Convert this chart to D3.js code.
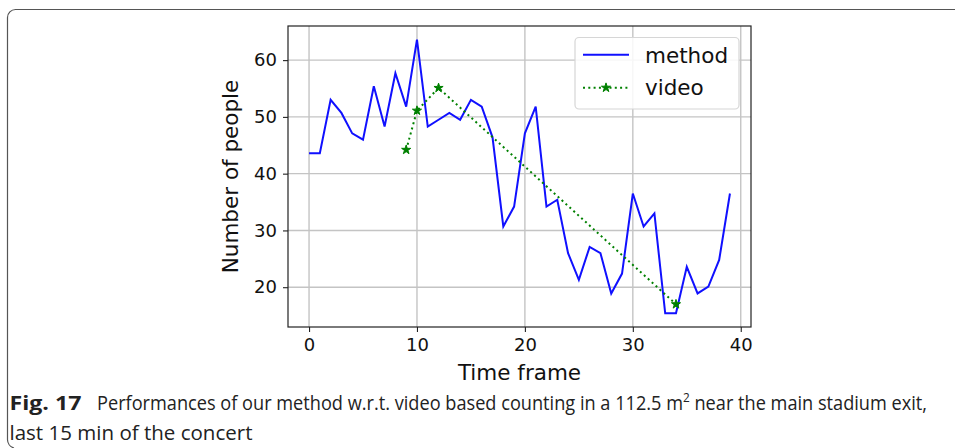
<!DOCTYPE html>
<html>
<head>
<meta charset="utf-8">
<script src="https://cdn.jsdelivr.net/npm/d3@7"></script>
<style>
  body { margin: 0; background: #fff; }
  svg { display: block; }
</style>
</head>
<body>
<svg id="canvas"></svg>
<script>
// Chart data
var methodCounts = [43.6, 43.6, 53.0, 50.7, 47.1, 46.0, 55.4, 48.3, 57.7, 51.8,
  63.6, 48.3, 49.5, 50.7, 49.5, 53.0, 51.8, 46.4, 30.7, 34.2,
  47.1, 51.8, 34.2, 35.4, 26.0, 21.3, 27.1, 26.0, 18.9, 22.4,
  36.5, 30.7, 33.0, 15.4, 15.4, 23.6, 18.9, 20.1, 24.8, 36.5];
var videoFrames = [9, 10, 12, 34];
var videoCounts = [44.2, 51.1, 55.1, 17.0];
var xTicks = [0, 10, 20, 30, 40];
var yTicks = [20, 30, 40, 50, 60];
var seriesNames = ['method', 'video'];

var canvasWidth = 955;
var canvasHeight = 448;

// Axes box
var plot = {
  left: 288,
  right: 751,
  top: 26,
  bottom: 327
};

var svg = d3.select('#canvas')
  .attr('width', canvasWidth)
  .attr('height', canvasHeight);

var mono = 'DejaVu Sans, sans-serif';

// Figure frame (open on the right)
svg.append('path')
  .attr('d', 'M955,9.5 H15.5 A8,8 0 0 0 7.5,17.5 V439 A9,9 0 0 0 14,448')
  .attr('fill', 'none')
  .attr('stroke', '#555')
  .attr('stroke-width', 1.2);

// Scales, with matplotlib style 5% margins
var xMargin = (methodCounts.length - 1) * 0.05;
var x = d3.scaleLinear()
  .domain([0 - xMargin, methodCounts.length - 1 + xMargin])
  .range([plot.left, plot.right]);

var allCounts = methodCounts.concat(videoCounts);
var yMin = d3.min(allCounts);
var yMax = d3.max(allCounts);
var yMargin = (yMax - yMin) * 0.05;
var y = d3.scaleLinear()
  .domain([yMin - yMargin, yMax + yMargin])
  .range([plot.bottom, plot.top]);

// Grid lines
svg.append('g')
  .selectAll('line')
  .data(xTicks)
  .enter()
  .append('line')
  .attr('x1', function(d) { return x(d); })
  .attr('x2', function(d) { return x(d); })
  .attr('y1', plot.top)
  .attr('y2', plot.bottom)
  .attr('stroke', '#c4c4c4')
  .attr('stroke-width', 1.4);

svg.append('g')
  .selectAll('line')
  .data(yTicks)
  .enter()
  .append('line')
  .attr('x1', plot.left)
  .attr('x2', plot.right)
  .attr('y1', function(d) { return y(d); })
  .attr('y2', function(d) { return y(d); })
  .attr('stroke', '#c4c4c4')
  .attr('stroke-width', 1.4);

// Bottom axis
var xAxis = svg.append('g')
  .attr('transform', 'translate(0,' + plot.bottom + ')')
  .call(d3.axisBottom(x).tickValues(xTicks).tickSize(5).tickPadding(6));

// Left axis
var yAxis = svg.append('g')
  .attr('transform', 'translate(' + plot.left + ',0)')
  .call(d3.axisLeft(y).tickValues(yTicks).tickSize(5).tickPadding(6));

[xAxis, yAxis].forEach(function(ax) {
  ax.select('.domain').remove();
  ax.selectAll('line').attr('stroke', '#222').attr('stroke-width', 1.1);
  ax.selectAll('text')
    .attr('fill', '#111')
    .style('font-family', mono)
    .style('font-size', '18px');
});
xAxis.selectAll('text').attr('dy', '0.71em');

// Axes frame
svg.append('rect')
  .attr('x', plot.left)
  .attr('y', plot.top)
  .attr('width', plot.right - plot.left)
  .attr('height', plot.bottom - plot.top)
  .attr('fill', 'none')
  .attr('stroke', '#222')
  .attr('stroke-width', 1.2);

// Method line
var methodLine = d3.line()
  .x(function(d, i) { return x(i); })
  .y(function(d) { return y(d); });

svg.append('path')
  .datum(methodCounts)
  .attr('d', methodLine)
  .attr('fill', 'none')
  .attr('stroke', '#1010ff')
  .attr('stroke-width', 2)
  .attr('stroke-linejoin', 'miter');

// Video line, dotted with star markers
var videoLine = d3.line()
  .x(function(d, i) { return x(videoFrames[i]); })
  .y(function(d) { return y(d); });

svg.append('path')
  .datum(videoCounts)
  .attr('d', videoLine)
  .attr('fill', 'none')
  .attr('stroke', '#008000')
  .attr('stroke-width', 2)
  .attr('stroke-dasharray', '2,3.3');

var star = d3.symbol().type(d3.symbolStar).size(26);

svg.append('g')
  .selectAll('path')
  .data(videoCounts)
  .enter()
  .append('path')
  .attr('d', star)
  .attr('transform', function(d, i) {
    return 'translate(' + x(videoFrames[i]) + ',' + y(d) + ')';
  })
  .attr('fill', '#008000')
  .attr('stroke', '#008000')
  .attr('stroke-width', 1);

// Axis labels
svg.append('text')
  .attr('x', (plot.left + plot.right) / 2)
  .attr('y', 380)
  .attr('text-anchor', 'middle')
  .style('font-family', mono)
  .style('font-size', '21.5px')
  .attr('fill', '#111')
  .text('Time frame');

svg.append('text')
  .attr('transform', 'translate(238,' + ((plot.top + plot.bottom) / 2) + ') rotate(-90)')
  .attr('text-anchor', 'middle')
  .style('font-family', mono)
  .style('font-size', '21.5px')
  .attr('fill', '#111')
  .text('Number of people');

// Legend
var legend = svg.append('g');
legend.append('rect')
  .attr('x', 575)
  .attr('y', 37.5)
  .attr('width', 164)
  .attr('height', 71.5)
  .attr('rx', 4)
  .attr('fill', 'rgba(255,255,255,0.85)')
  .attr('stroke', '#d6d6d6')
  .attr('stroke-width', 1.2);

legend.append('line')
  .attr('x1', 583).attr('x2', 629)
  .attr('y1', 54.7).attr('y2', 54.7)
  .attr('stroke', '#1010ff')
  .attr('stroke-width', 2);

legend.append('line')
  .attr('x1', 583).attr('x2', 629)
  .attr('y1', 87.7).attr('y2', 87.7)
  .attr('stroke', '#008000')
  .attr('stroke-width', 2)
  .attr('stroke-dasharray', '2,3.3');

legend.append('path')
  .attr('d', star)
  .attr('transform', 'translate(606,87.7)')
  .attr('fill', '#008000')
  .attr('stroke', '#008000');

legend.selectAll('text.name')
  .data(seriesNames)
  .enter()
  .append('text')
  .classed('name', true)
  .attr('x', 645)
  .attr('y', function(d, i) { return 62.7 + i * 32.5; })
  .style('font-family', mono)
  .style('font-size', '21.5px')
  .attr('fill', '#111')
  .text(function(d) { return d; });

// Caption
var capFont = 'Open Sans, sans-serif';
function caption(x0, y0, len, weight) {
  return svg.append('text')
    .attr('x', x0)
    .attr('y', y0)
    .attr('textLength', len)
    .attr('lengthAdjust', 'spacingAndGlyphs')
    .style('font-family', capFont)
    .style('font-size', '20px')
    .style('font-weight', weight || 'normal')
    .attr('fill', '#222');
}
caption(9.5, 410, 72, 'bold').text('Fig. 17');

var line1 = caption(97, 410, 830);
line1.append('tspan').text('Performances of our method w.r.t. video based counting in a 112.5 m');
line1.append('tspan')
  .attr('dy', -8)
  .style('font-size', '13px')
  .text('2');
line1.append('tspan')
  .attr('dy', 8)
  .text(' near the main stadium exit,');

caption(9.5, 440, 243).text('last 15 min of the concert');
</script>
</body>
</html>
